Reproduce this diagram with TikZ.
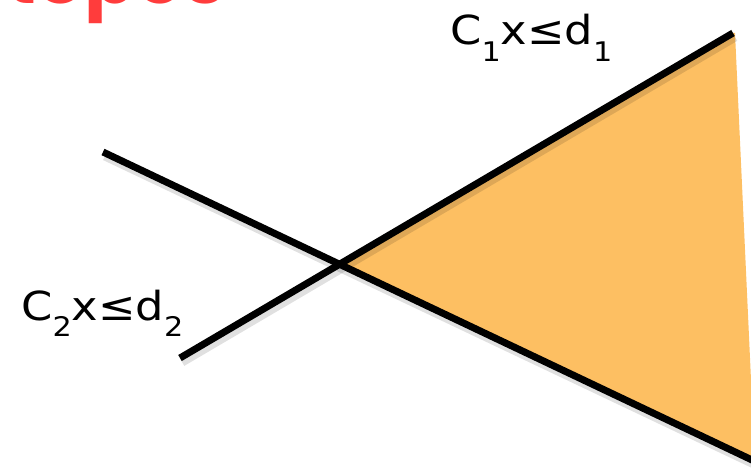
\documentclass[tikz,border=0pt]{standalone}
\usepackage{fontspec}
\setmainfont{DejaVu Sans}
\newfontfamily\titlefont{Poppins}
\definecolor{region}{RGB}{253,191,98}
\definecolor{titlered}{RGB}{255,60,60}
\newcommand{\lsub}[1]{\raisebox{-0.42em}{\fontsize{27}{27}\selectfont #1}}
\begin{document}
\begin{tikzpicture}[x=1pt,y=-1pt,
  bound/.style={line width=7pt, line cap=butt, draw=black},
  shadowline/.style={line width=9pt, draw=black, opacity=0.12},
  lab/.style={anchor=base west, inner sep=0pt, xscale=1.12, font=\fontsize{40}{40}\selectfont}]
\useasboundingbox (0,0) rectangle (751,468);
\clip (0,0) rectangle (751,468);
\coordinate (a1) at (180,358);
\coordinate (a2) at (733,33);
\coordinate (b1) at (103,152);
\coordinate (b2) at (790,478);
\coordinate (v) at (342,263);
% feasible region
\fill[region] (v) -- (a2) -- (735,33) -- (751,380) -- (751,460) -- cycle;
% shadows
\draw[shadowline] ([shift={(2,4)}]a1) -- ([shift={(2,4)}]a2);
\draw[shadowline] ([shift={(2,4)}]b1) -- ([shift={(2,4)}]b2);
% constraint lines
\draw[bound] (a1) -- (a2);
\draw[bound] (b1) -- (b2);
% title (cut off at the top edge)
\node[anchor=base east, inner sep=0pt, text=titlered,
  font=\titlefont\bfseries\fontsize{76}{76}\selectfont] (title) at (226,4) {Polytopes};
% labels
\node[lab] (c1) at (450,45) {C\lsub{1}x≤d\lsub{1}};
\node[lab] (c2) at (21,320) {C\lsub{2}x≤d\lsub{2}};
\end{tikzpicture}
\end{document}
